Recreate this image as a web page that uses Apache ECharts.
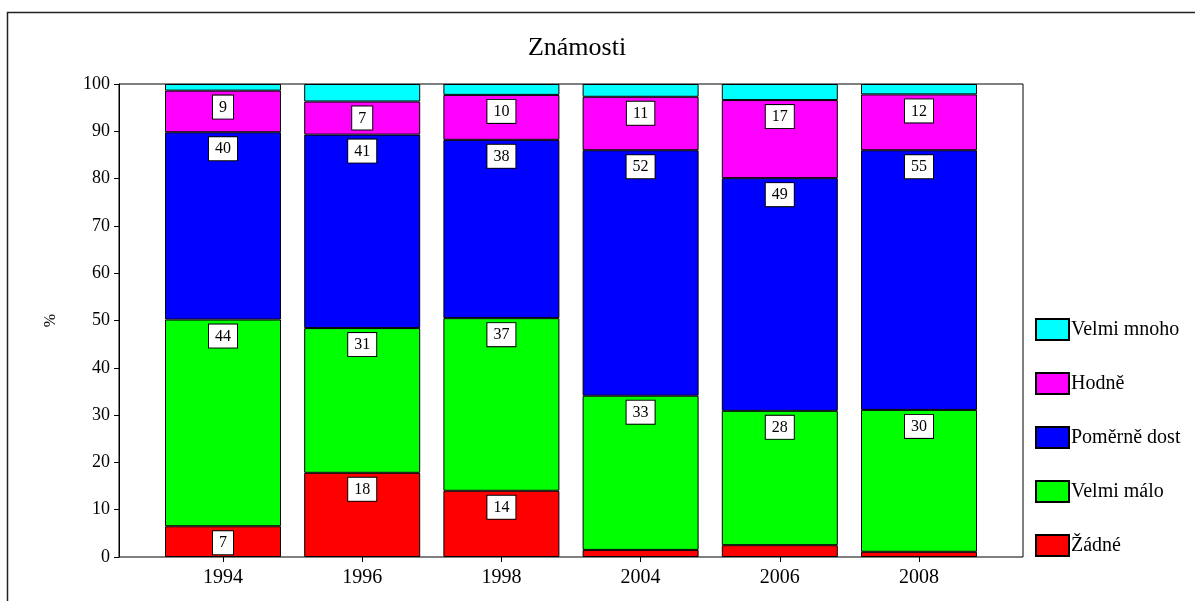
<!DOCTYPE html>
<html>
<head>
<meta charset="utf-8">
<script src="https://cdn.jsdelivr.net/npm/echarts@6/dist/echarts.min.js"></script>
<style>
html,body{margin:0;padding:0;background:#fff;}
#chart{width:1195px;height:601px;}
</style>
</head>
<body>
<div id="chart"></div>
<script>
// ---- data ----
const categories = ['1994', '1996', '1998', '2004', '2006', '2008'];
const seriesNames = ['Žádné', 'Velmi málo', 'Poměrně dost', 'Hodně', 'Velmi mnoho'];
const zadne       = [6.5, 17.8, 14.0, 1.5, 2.5, 1.1];
const velmiMalo   = [43.7, 30.6, 36.5, 32.6, 28.4, 30.0];
const pomerneDost = [39.6, 40.9, 37.7, 51.9, 49.2, 54.9];
const hodne       = [8.8, 7.0, 9.5, 11.3, 16.5, 11.8];
const velmiMnoho  = [1.4, 3.7, 2.3, 2.7, 3.4, 2.2];
const yTicks = [0, 10, 20, 30, 40, 50, 60, 70, 80, 90, 100];
const legendOrder = ['Velmi mnoho', 'Hodně', 'Poměrně dost', 'Velmi málo', 'Žádné'];

const values = [zadne, velmiMalo, pomerneDost, hodne, velmiMnoho];
const colors = ['#FF0000', '#00FF00', '#0000FF', '#FF00FF', '#00FFFF'];
const SERIF = "'Liberation Serif', 'Times New Roman', 'DejaVu Serif', serif";

const labelStyle = {
  show: true,
  position: 'insideTop',
  distance: 5,
  backgroundColor: '#fff',
  borderColor: '#000',
  borderWidth: 1,
  padding: [4, 6, 3, 6],
  color: '#000',
  fontSize: 16,
  fontFamily: SERIF,
  formatter: p => String(Math.round(p.value))
};

const series = seriesNames.map((name, i) => ({
  name: name,
  type: 'bar',
  stack: 'total',
  xAxisIndex: 1,
  yAxisIndex: 1,
  barWidth: 116,
  itemStyle: { color: colors[i], borderColor: '#000', borderWidth: 1 },
  label: labelStyle,
  emphasis: { disabled: true },
  data: values[i].map(v => ({ value: v, label: { show: v >= 5 } }))
}));

const chart = echarts.init(document.getElementById('chart'), null, { renderer: 'canvas' });
chart.setOption({
  animation: false,
  backgroundColor: '#fff',
  title: {
    text: 'Známosti',
    left: 572,
    textAlign: 'center',
    top: 30,
    textStyle: { fontFamily: SERIF, fontSize: 26, fontWeight: 'normal', color: '#000' }
  },
  graphic: [{
    type: 'rect',
    shape: { x: 7.5, y: 12.5, width: 1300, height: 700 },
    style: { fill: 'none', stroke: '#222', lineWidth: 1.5 },
    silent: true, z: -10
  }],
  legend: {
    data: legendOrder,
    orient: 'vertical',
    left: 1030,
    top: 313,
    itemWidth: 33,
    itemHeight: 21,
    itemGap: 31,
    icon: 'rect',
    selectedMode: false,
    textStyle: { fontFamily: SERIF, fontSize: 20, color: '#000', padding: [0, 0, 0, -3] }
  },
  grid: [
    { left: 119, right: 172, top: 84, bottom: 44, show: true, borderColor: '#000', borderWidth: 1, backgroundColor: 'transparent' },
    { left: 153.4, right: 206.4, top: 84, bottom: 44 }
  ],
  xAxis: [
    { type: 'value', gridIndex: 0, show: false, min: 0, max: 1 },
    {
      type: 'category', gridIndex: 1, data: categories,
      axisLine: { show: false },
      axisTick: { show: true, alignWithLabel: true, length: 5, lineStyle: { color: '#000' } },
      axisLabel: { fontFamily: SERIF, fontSize: 20, color: '#000', margin: 11 }
    }
  ],
  yAxis: [
    {
      type: 'value', gridIndex: 0, min: 0, max: 100, interval: 10,
      name: '%', nameLocation: 'middle', nameGap: 60, nameRotate: 90,
      nameTextStyle: { fontFamily: SERIF, fontSize: 16, color: '#000' },
      axisLine: { show: true, lineStyle: { color: '#000' } },
      axisTick: { show: true, length: 5, lineStyle: { color: '#000' } },
      axisLabel: { fontFamily: SERIF, fontSize: 18, color: '#000', margin: 9,
        formatter: v => yTicks.indexOf(v) >= 0 ? String(v) : '' },
      splitLine: { show: false }
    },
    { type: 'value', gridIndex: 1, min: 0, max: 100, show: false, splitLine: { show: false } }
  ],
  series: series
});
</script>
</body>
</html>
